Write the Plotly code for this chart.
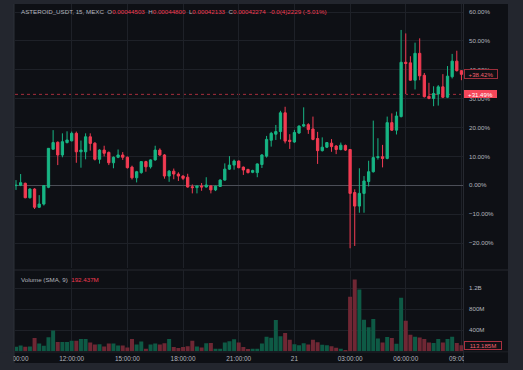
import plotly.graph_objects as go

# ---------------- data (percent change vs. first bar, 15-min bars from 09:00) ----------------
open_ = [-0.1, 0.0, 0.7, -4.3, -1.3, -7.6, -6.5, -0.7, 12.5, 14.9,
         10.5, 14.8, 15.4, 18.0, 11.6, 11.6, 16.8, 14.6, 9.0, 12.2,
         11.4, 7.8, 9.7, 10.5, 9.7, 6.3, 2.6, 4.4, 8.2, 6.4,
         8.8, 12.2, 10.5, 3.2, 4.9, 3.9, 3.2, 2.8, -0.5, -0.8,
         -0.2, -0.6, -0.2, -1.6, -0.4, 1.8, 5.6, 7.0, 8.4, 6.3,
         5.5, 4.5, 4.4, 7.2, 10.1, 15.6, 17.7, 18.6, 25.1, 15.6,
         15.0, 18.1, 20.5, 21.0, 19.5, 16.2, 12.0, 13.2, 14.6, 13.6,
         12.4, 13.8, 12.4, -2.5, -7.2, -2.8, 1.3, 4.7, 9.6, 9.9,
         9.3, 21.7, 19.1, 23.8, 42.6, 42.4, 36.4, 45.7, 38.1, 30.8,
         30.1, 31.6, 34.1, 30.5, 37.6, 43.0, 39.7]
high = [1.8, 3.9, 0.9, -1.0, -1.0, -3.4, -0.1, 12.9, 19.1, 15.2,
        18.0, 18.7, 18.6, 18.6, 15.5, 18.0, 18.0, 14.9, 12.5, 13.7,
        11.7, 10.0, 12.4, 11.5, 10.0, 6.8, 5.0, 8.4, 8.5, 9.0,
        13.7, 12.8, 10.8, 5.3, 5.8, 4.5, 3.5, 4.0, 0.3, -0.1,
        0.8, 2.8, 0.0, -0.1, 2.1, 7.6, 10.1, 8.9, 8.6, 6.5,
        5.7, 5.4, 7.6, 10.8, 17.1, 18.5, 20.9, 25.8, 27.2, 17.7,
        19.2, 20.8, 27.0, 21.5, 23.8, 18.5, 16.6, 15.0, 16.0, 13.9,
        14.8, 14.1, 12.6, -1.4, 5.9, 3.2, 8.5, 22.4, 16.3, 14.0,
        23.8, 24.9, 25.5, 53.8, 52.6, 44.7, 49.4, 50.9, 38.9, 35.5,
        34.3, 34.7, 38.5, 41.3, 45.5, 46.6, 39.9]
low = [-1.6, -0.3, -4.5, -4.6, -8.2, -7.8, -7.0, -1.0, 12.3, 7.0,
       9.7, 14.5, 15.2, 7.8, 6.1, 9.0, 12.0, 8.6, 7.5, 10.0,
       7.0, 5.9, 9.4, 8.8, 5.8, 2.0, 1.0, 4.0, 4.7, 5.8,
       8.5, 10.2, 2.3, 1.2, 2.1, 1.5, 1.8, -0.8, -2.8, -2.8,
       -1.9, -0.8, -2.8, -2.0, -0.6, 1.6, 5.3, 5.4, 5.9, 3.6,
       4.1, 4.2, 2.8, 6.0, 9.6, 13.4, 15.7, 15.9, 14.5, 12.6,
       14.7, 17.8, 20.2, 17.8, 15.6, 7.4, 11.7, 12.9, 11.6, 10.8,
       12.1, 11.9, -21.8, -21.0, -9.5, -9.5, -0.4, 4.4, 8.9, 6.2,
       9.0, 18.8, 17.6, 23.5, 31.6, 36.2, 33.2, 36.4, 30.4, 29.8,
       27.4, 27.6, 30.2, 30.2, 37.0, 39.4, 36.4]
close = [0.0, 0.9, -4.3, -1.3, -7.6, -6.5, -0.1, 12.8, 14.8, 10.5,
         15.1, 15.7, 18.0, 11.6, 12.2, 16.8, 14.5, 9.0, 12.2, 11.1,
         7.8, 9.7, 10.5, 9.7, 6.1, 2.6, 4.7, 8.2, 6.4, 8.8,
         12.2, 10.5, 3.2, 4.9, 3.9, 3.2, 2.4, -0.6, -0.8, -0.2,
         -0.6, 0.1, -1.6, -0.3, 1.8, 5.6, 7.0, 8.4, 6.1, 5.3,
         4.4, 5.1, 7.4, 10.5, 15.9, 18.0, 18.6, 25.1, 15.3, 15.2,
         18.3, 20.5, 21.0, 19.3, 15.9, 12.0, 13.2, 14.8, 13.4, 12.4,
         13.9, 12.2, -2.8, -7.2, -2.8, 1.5, 4.7, 9.6, 9.9, 9.3,
         21.7, 19.1, 24.0, 42.6, 42.2, 36.4, 45.7, 37.9, 30.7, 30.1,
         31.8, 34.1, 30.5, 37.8, 43.0, 39.7, 38.42]
volume_m = [86, 111, 86, 92, 252, 148, 105, 270, 394, 178,
            178, 178, 203, 203, 234, 234, 166, 129, 135, 92,
            148, 148, 111, 111, 74, 234, 129, 185, 49, 129,
            148, 129, 154, 234, 80, 62, 80, 98, 203, 92,
            74, 154, 160, 49, 49, 166, 191, 228, 166, 80,
            43, 49, 49, 148, 277, 258, 597, 289, 350, 221,
            135, 117, 154, 129, 221, 172, 123, 117, 98, 68,
            49, 18, 1040, 1367, 1178, 599, 460, 617, 246, 170,
            271, 252, 145, 1021, 580, 315, 277, 265, 233, 170,
            158, 233, 170, 233, 277, 158, 113.185]

time_tick_idx = [0, 12, 24, 36, 48, 60, 72, 84, 96]
time_tick_text = ["09:00:00", "12:00:00", "15:00:00", "18:00:00", "21:00:00",
                  "21", "03:00:00", "06:00:00", "09:00:00"]
price_ticks = [-20, -10, 0, 10, 20, 30, 40, 50, 60]
price_tick_text = ["\u221220.00%", "\u221210.00%", "0.00%", "10.00%", "20.00%",
                   "30.00%", "40.00%", "50.00%", "60.00%"]
vol_ticks = [400, 800, 1200]
vol_tick_text = ["400M", "800M", "1.2B"]

price_line_value = 31.49
last_value = 38.42
last_volume = 113.185
sma_volume_text = "192.437M"

# ---------------- styling ----------------
W, H = 523, 370
ML, MR, MT, MB = 15, 60, 4, 18
PW = W - ML - MR
PH = H - MT - MB

def px_x(px):
    return (px - ML) / PW

def px_y(py):
    return (H - MB - py) / PH

UP = "#17b584"
DN = "#f23b52"
UP_V = "#0e5a45"
DN_V = "#6f2734"
BG = "#0e1015"
FRAME = "#23262e"
GRID = "#1e2128"
TXT = "#b2b5be"
FONT = "Liberation Sans, Arial, sans-serif"

x = list(range(len(open_)))
vol_colors = [UP_V if c >= o else DN_V for o, c in zip(open_, close)]

fig = go.Figure()
fig.add_trace(go.Candlestick(
    x=x, open=open_, high=high, low=low, close=close,
    increasing=dict(line=dict(color=UP, width=1), fillcolor=UP),
    decreasing=dict(line=dict(color=DN, width=1), fillcolor=DN),
    whiskerwidth=0, hoverinfo="skip", xaxis="x", yaxis="y", showlegend=False,
))
fig.add_trace(go.Bar(
    x=x, y=volume_m, marker=dict(color=vol_colors, line=dict(width=0)),
    xaxis="x", yaxis="y2", hoverinfo="skip", showlegend=False,
))

shapes = [
    dict(type="rect", xref="paper", yref="paper", x0=px_x(14), x1=px_x(508),
         y0=px_y(363), y1=px_y(4), fillcolor=BG, line=dict(width=0), layer="below"),
    dict(type="line", xref="paper", yref="paper", x0=px_x(14), x1=px_x(14),
         y0=px_y(363), y1=px_y(4), line=dict(color="#2c3039", width=1), layer="below"),
    dict(type="line", xref="paper", yref="paper", x0=px_x(463.5), x1=px_x(463.5),
         y0=px_y(363), y1=px_y(4), line=dict(color="#262930", width=1), layer="below"),
    dict(type="line", xref="paper", yref="paper", x0=px_x(14), x1=px_x(508),
         y0=px_y(352), y1=px_y(352), line=dict(color="#22252c", width=1), layer="below"),
    dict(type="line", xref="paper", yref="paper", x0=px_x(14), x1=px_x(508),
         y0=px_y(270), y1=px_y(270), line=dict(color="#262930", width=1), layer="below"),
    dict(type="line", xref="paper", yref="y", x0=0, x1=1,
         y0=price_line_value, y1=price_line_value,
         line=dict(color="#a52e3d", width=1, dash="dot"), layer="below"),
    dict(type="rect", xref="paper", yref="paper", x0=px_x(464), x1=px_x(508),
         y0=px_y(363), y1=px_y(352.5), fillcolor=BG, line=dict(width=0), layer="above"),
    dict(type="rect", xref="paper", yref="paper", x0=px_x(-5), x1=px_x(13.5),
         y0=px_y(372), y1=px_y(352.5), fillcolor=FRAME, line=dict(width=0), layer="above"),
]

red_txt = "#f23b52"
header = ("ASTEROID_USDT, 15, MEXC\u00a0 O<span style='color:%s'>0.00044503</span>\u00a0 "
          "H<span style='color:%s'>0.00044800</span>\u00a0 L<span style='color:%s'>0.00042133</span>\u00a0 "
          "C<span style='color:%s'>0.00042274</span>\u00a0 <span style='color:%s'>-0.0(4)2229 (-5.01%%)</span>"
          % ((red_txt,) * 5))

annotations = [
    dict(text=header, xref="paper", yref="paper", x=px_x(19), y=px_y(11.5),
         xanchor="left", yanchor="middle", showarrow=False,
         font=dict(family=FONT, size=6.2, color=TXT)),
    dict(text="Volume (SMA, 9)\u00a0 <span style='color:%s'>%s</span>" % (red_txt, sma_volume_text),
         xref="paper", yref="paper", x=px_x(19), y=px_y(279.6),
         xanchor="left", yanchor="middle", showarrow=False,
         font=dict(family=FONT, size=6.2, color=TXT)),
    dict(text="+%.2f%%" % last_value, xref="paper", yref="y", x=px_x(464.5), y=last_value,
         xanchor="left", yanchor="middle", showarrow=False, width=32, height=8,
         bgcolor=BG, bordercolor="#9c2f3c", borderwidth=1, borderpad=0,
         font=dict(family=FONT, size=6.1, color="#f0606e")),
    dict(text="+%.2f%%" % price_line_value, xref="paper", yref="y", x=px_x(464.5), y=price_line_value,
         xanchor="left", yanchor="middle", showarrow=False, width=33, height=8,
         bgcolor="#f5475a", borderwidth=0, borderpad=0,
         font=dict(family=FONT, size=6.1, color="#ffffff")),
    dict(text="%.3fM" % last_volume, xref="paper", yref="y2", x=px_x(464), y=last_volume,
         xanchor="left", yanchor="middle", showarrow=False, width=36, height=7,
         bgcolor=BG, bordercolor="#a8303f", borderwidth=1, borderpad=0,
         font=dict(family=FONT, size=6.1, color="#f0606e")),
]

vol_bottom_px = 351.3
vol_px_per_m = 42.0 / 800.0
vol_top = (vol_bottom_px - 270) / vol_px_per_m
price_px_per_pct = 231.0 / 80.0
zero_px = 185.3
price_top = (zero_px - 4) / price_px_per_pct
price_bottom = (zero_px - 268) / price_px_per_pct
dx = 4.64
x_left = (15 - 16) / dx
x_right = (463 - 16) / dx

fig.update_layout(
    width=W, height=H,
    margin=dict(l=ML, r=MR, t=MT, b=MB),
    paper_bgcolor=FRAME, plot_bgcolor=BG,
    showlegend=False, bargap=0.14,
    font=dict(family=FONT, size=6.2, color=TXT),
    shapes=shapes, annotations=annotations,
    xaxis=dict(
        range=[x_left, x_right], anchor="y2",
        tickmode="array", tickvals=time_tick_idx, ticktext=time_tick_text,
        showgrid=True, gridcolor=GRID, gridwidth=1, zeroline=False, showline=False,
        ticks="", tickfont=dict(family=FONT, size=6.4, color=TXT),
        rangeslider=dict(visible=False), fixedrange=True, ticklabelstandoff=2,
    ),
    yaxis=dict(
        domain=[px_y(268), 1.0], range=[price_bottom, price_top], side="right",
        tickmode="array", tickvals=price_ticks, ticktext=price_tick_text,
        showgrid=True, gridcolor=GRID, gridwidth=1,
        zeroline=True, zerolinecolor="#4b4e57", zerolinewidth=1,
        showline=False, ticks="", tickfont=dict(family=FONT, size=6.2, color=TXT),
        fixedrange=True, ticklabelstandoff=5,
    ),
    yaxis2=dict(
        domain=[px_y(vol_bottom_px), px_y(270)], range=[0, vol_top], side="right",
        tickmode="array", tickvals=vol_ticks, ticktext=vol_tick_text,
        showgrid=True, gridcolor=GRID, gridwidth=1, zeroline=False,
        showline=False, ticks="", tickfont=dict(family=FONT, size=6.2, color=TXT),
        fixedrange=True, ticklabelstandoff=5,
    ),
)

fig.write_html(
    "out.html",
    config={"displayModeBar": False},
    post_script="document.body.style.margin='0';document.body.style.overflow='hidden';"
                "document.body.style.background='%s';" % FRAME,
)
